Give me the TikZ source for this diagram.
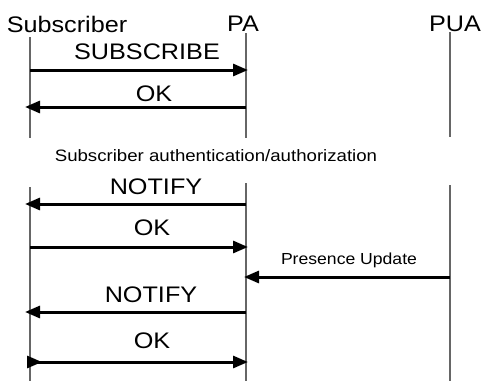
\documentclass[tikz,border=0pt]{standalone}
\usepackage{fontspec}
\setmainfont{Liberation Sans}
\usetikzlibrary{arrows.meta}
\tikzset{
  life/.style={draw=black!60, line width=1.3pt},
  msg/.style={line width=3pt, -{Triangle[length=15pt,width=12pt]}},
  msgtail/.style={line width=3pt, {Triangle[reversed,length=15pt,width=12pt]}-{Triangle[length=15pt,width=12pt]}},
  head/.style={inner sep=0pt, font=\fontsize{22.5}{26}\selectfont},
  lbl/.style={inner sep=0pt, font=\fontsize{22.5}{26}\selectfont},
  small/.style={inner sep=0pt, font=\fontsize{16.5}{19}\selectfont},
}
\begin{document}
\begin{tikzpicture}[x=1pt,y=-1pt]
\useasboundingbox (0,0) rectangle (483,381);
% headers
\node[head] (hs) at (67,24) {\scalebox{1.12}[1]{Subscriber}};
\node[head] (hp) at (243,24) {\scalebox{1.12}[1]{PA}};
\node[head] (hu) at (455,24) {\scalebox{1.12}[1]{PUA}};
% lifelines
\coordinate (s0) at (30,37); \coordinate (s1) at (30,138);
\coordinate (p0) at (246,33); \coordinate (p1) at (246,138);
\coordinate (u0) at (450,32); \coordinate (u1) at (450,137);
\coordinate (s2) at (30,187); \coordinate (s3) at (30,381);
\coordinate (p2) at (246,183); \coordinate (p3) at (246,381);
\coordinate (u2) at (450,185); \coordinate (u3) at (450,381);
\draw[life] (s0) -- (s1); \draw[life] (p0) -- (p1); \draw[life] (u0) -- (u1);
\draw[life] (s2) -- (s3); \draw[life] (p2) -- (p3); \draw[life] (u2) -- (u3);
% SUBSCRIBE
\coordinate (a1) at (30,70); \coordinate (b1) at (248,70);
\draw[msg] (a1) -- (b1);
\node[lbl] (l1) at (147,52) {\scalebox{1.12}[1]{SUBSCRIBE}};
% OK
\coordinate (a2) at (246,107); \coordinate (b2) at (25,107);
\draw[msg] (a2) -- (b2);
\node[lbl] (l2) at (154,94) {\scalebox{1.12}[1]{OK}};
% auth
\node[small] (auth) at (216,156) {\scalebox{1.13}[1]{Subscriber authentication/authorization}};
% NOTIFY
\coordinate (a3) at (246,204); \coordinate (b3) at (25,204);
\draw[msg] (a3) -- (b3);
\node[lbl] (l3) at (156,187) {\scalebox{1.12}[1]{NOTIFY}};
% OK
\coordinate (a4) at (30,247); \coordinate (b4) at (248,247);
\draw[msg] (a4) -- (b4);
\node[lbl] (l4) at (152,228) {\scalebox{1.12}[1]{OK}};
% Presence Update
\coordinate (a5) at (450,277); \coordinate (b5) at (244,277);
\draw[msg] (a5) -- (b5);
\node[small] (l5) at (349,260) {\scalebox{1.1}[1]{\fontsize{16}{18}\selectfont Presence Update}};
% NOTIFY
\coordinate (a6) at (246,312); \coordinate (b6) at (25,312);
\draw[msg] (a6) -- (b6);
\node[lbl] (l6) at (151,295) {\scalebox{1.12}[1]{NOTIFY}};
% OK
\coordinate (a7) at (27,362); \coordinate (b7) at (248,362);
\draw[msgtail] (a7) -- (b7);
\node[lbl] (l7) at (152,341) {\scalebox{1.12}[1]{OK}};
\end{tikzpicture}
\end{document}
